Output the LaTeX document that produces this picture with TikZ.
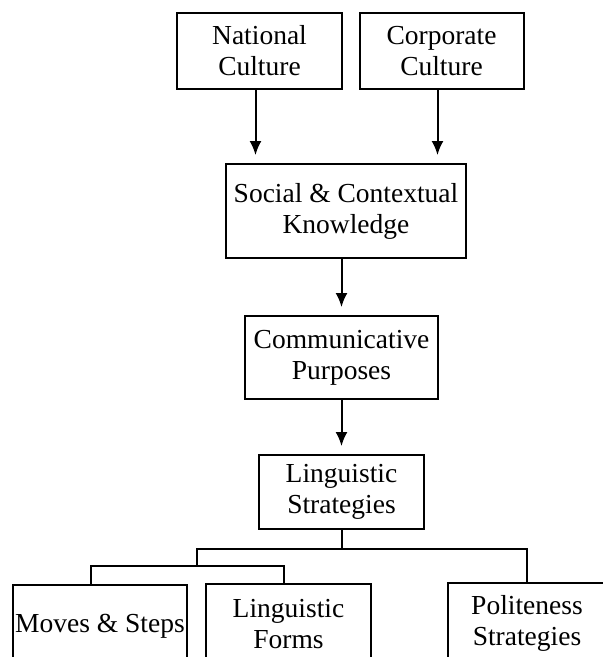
\documentclass[tikz,border=0pt]{standalone}
\usepackage{fontspec}
\setmainfont{Liberation Serif}
\usetikzlibrary{arrows.meta}

\tikzset{
  box/.style={draw, line width=2pt, align=center, inner sep=0pt,
    font=\fontsize{27.5}{31}\selectfont},
  link/.style={draw, line width=2pt},
  flow/.style={draw, line width=2pt, -{Latex[length=14pt,width=12pt]}, shorten >=8pt}
}

\begin{document}
\begin{tikzpicture}[x=1pt,y=-1pt]
\useasboundingbox (0,0) rectangle (603,657);
\clip (0,0) rectangle (603,657);

\node[box, minimum width=165pt, minimum height=76pt] (nat) at (259.5,51) {National\\Culture};
\node[box, minimum width=164pt, minimum height=76pt] (corp) at (441.5,51) {Corporate\\Culture};
\node[box, minimum width=240pt, minimum height=94pt] (soc) at (346,211) {Social \& Contextual\\Knowledge};
\node[box, minimum width=193pt, minimum height=83pt] (comm) at (341.5,357.5) {Communicative\\Purposes};
\node[box, minimum width=165pt, minimum height=74pt] (ling) at (341.5,492) {Linguistic\\Strategies};
\node[box, minimum width=174pt, minimum height=83pt] (moves) at (100,626.5) {Moves \& Steps};
\node[box, minimum width=165pt, minimum height=80pt] (forms) at (288.5,624) {Linguistic\\Forms};
\node[box, minimum width=158pt, minimum height=80pt] (polite) at (527,623) {Politeness\\Strategies};

\coordinate (split) at (341.5,549);
\coordinate (subsplit) at (197,566);

\path[flow] ([xshift=-4pt]nat.south) -- ([xshift=-4pt]nat.south |- soc.north);
\path[flow] ([xshift=-4pt]corp.south) -- ([xshift=-4pt]corp.south |- soc.north);
\path[flow] (soc.south -| comm.north) -- (comm.north);
\path[flow] (comm.south) -- (ling.north);

\path[link] (ling.south) -- (split);
\path[link] (split) -| (polite.north);
\path[link] (split) -| (subsplit);
\path[link] (subsplit) -| ([xshift=-9pt]moves.north);
\path[link] (subsplit) -| ([xshift=-5pt]forms.north);
\end{tikzpicture}
\end{document}
